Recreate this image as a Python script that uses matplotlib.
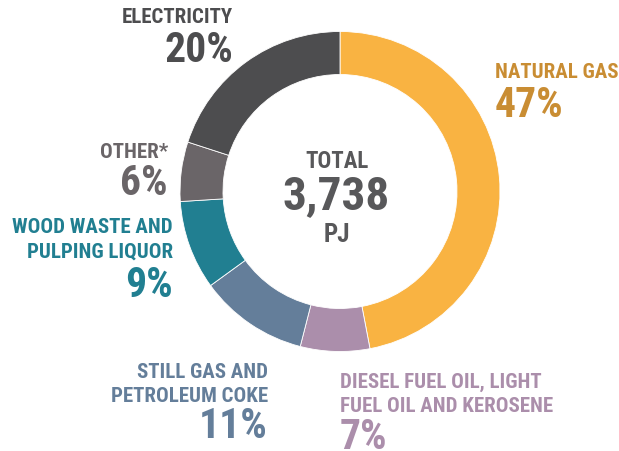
import matplotlib
matplotlib.use("Agg")
import matplotlib.pyplot as plt
from matplotlib import font_manager

categories = ["NATURAL GAS", "DIESEL FUEL OIL, LIGHT\nFUEL OIL AND KEROSENE",
              "STILL GAS AND\nPETROLEUM COKE", "WOOD WASTE AND\nPULPING LIQUOR",
              "OTHER*", "ELECTRICITY"]
shares = [47, 7, 11, 9, 6, 20]
total_value = "3,738"
total_unit = "PJ"

colors = ["#F9B342", "#AB8EAB", "#647E9A", "#217F91", "#6A6568", "#4D4D4F"]
label_colors = ["#C98D33", "#AB8EAB", "#647E9A", "#217F91", "#6A6568", "#4D4D4F"]

names = {f.name for f in font_manager.fontManager.ttflist}
family = "DejaVu Sans"
for cand in ["Roboto Condensed", "Archivo Narrow", "PT Sans Narrow",
             "Fira Sans Condensed", "Barlow Semi Condensed", "IBM Plex Sans Condensed",
             "Sofia Sans Condensed", "Encode Sans Condensed", "Oswald"]:
    if cand in names:
        family = cand
        break
FONT = dict(family=family, fontweight="bold")

W, H = 619, 452
fig = plt.figure(figsize=(W / 100, H / 100), dpi=100)
ax = fig.add_axes([0, 0, 1, 1])

cx, cy, r = 340, H - 192.5, 160
ax.pie(shares, colors=colors, startangle=90, counterclock=False,
       center=(cx, cy), radius=r, frame=True,
       wedgeprops=dict(width=43, edgecolor="white", linewidth=0.6))
ax.set_xlim(0, W)
ax.set_ylim(0, H)
ax.set_aspect("equal")
ax.axis("off")

def Y(y):
    return H - y

# label placement: (x, ha, name baselines, pct baseline)
placements = [
    (495, "left", [78], 117),
    (340, "left", [388, 412], 449),
    (268, "right", [378, 402], 438),
    (173, "right", [233, 258], 297),
    (168, "right", [158], 195),
    (233, "right", [23], 62),
]
for cat, val, col, (x, ha, bls, pb) in zip(categories, shares, label_colors, placements):
    for line, bl in zip(cat.split("\n"), bls):
        ax.text(x, Y(bl), line, ha=ha, va="baseline", fontsize=15, color=col, **FONT)
    ax.text(x, Y(pb), f"{val}%", ha=ha, va="baseline", fontsize=30, color=col, **FONT)

tc = "#58585A"
ax.text(337, Y(167.5), "TOTAL", ha="center", va="baseline", fontsize=16.5, color=tc, **FONT)
ax.text(336, Y(209), total_value, ha="center", va="baseline", fontsize=34, color=tc, **FONT)
ax.text(337, Y(242.5), total_unit, ha="center", va="baseline", fontsize=18, color=tc, **FONT)

fig.savefig("out.png", dpi=100, facecolor="white")
